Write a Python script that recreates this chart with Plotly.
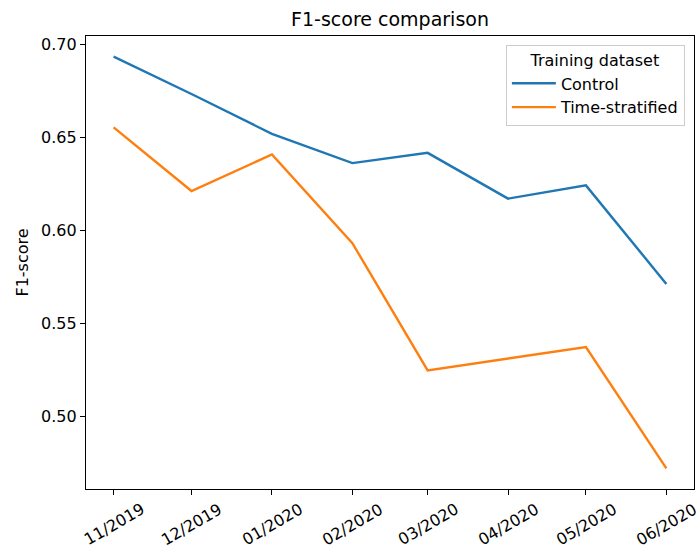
import pandas as pd
import plotly.graph_objects as go

months = ["2019-11-01", "2019-12-01", "2020-01-01", "2020-02-01",
          "2020-03-01", "2020-04-01", "2020-05-01", "2020-06-01"]
month_labels = ["11/2019", "12/2019", "01/2020", "02/2020",
                "03/2020", "04/2020", "05/2020", "06/2020"]
control = [0.6934, 0.6733, 0.6519, 0.6362, 0.6417, 0.6171, 0.6242, 0.5713]
time_stratified = [0.6554, 0.6212, 0.6408, 0.5932, 0.5248, 0.5313, 0.5374, 0.4722]

font = "DejaVu Sans"

fig = go.Figure()
fig.add_trace(go.Scatter(x=months, y=control, mode="lines", name="Control",
                         line=dict(color="#1f77b4", width=2.4)))
fig.add_trace(go.Scatter(x=months, y=time_stratified, mode="lines", name="Time-stratified",
                         line=dict(color="#ff7f0e", width=2.4)))

# matplotlib-like 5% margins
d = pd.to_datetime(months)
pad = (d.max() - d.min()) * 0.05
xr = [str(d.min() - pad), str(d.max() + pad)]
lo = min(control + time_stratified)
hi = max(control + time_stratified)
yr = [lo - (hi - lo) * 0.05, hi + (hi - lo) * 0.05]

# centred, rotated tick labels
for m, lab in zip(months, month_labels):
    fig.add_annotation(x=m, y=0, xref="x", yref="paper", text=lab, showarrow=False,
                       textangle=-30, xanchor="center", yanchor="middle", yshift=-35,
                       font=dict(family=font, size=16, color="black"))

fig.update_layout(
    width=697,
    height=550,
    margin=dict(l=86, r=3, t=36, b=61, autoexpand=False),
    paper_bgcolor="white",
    plot_bgcolor="white",
    font=dict(family=font, size=16, color="black"),
    title=dict(text="F1-score comparison", x=0.5, xref="paper", y=1, yref="paper",
               yanchor="bottom", pad=dict(b=10), font=dict(size=19)),
    showlegend=True,
    legend=dict(
        title=dict(text="Training dataset", side="top center", font=dict(size=16)),
        x=0.985, y=0.981, xanchor="right", yanchor="top", itemwidth=44,
        bordercolor="#cccccc", borderwidth=1, bgcolor="rgba(255,255,255,0.8)",
        font=dict(size=16),
    ),
)
fig.update_xaxes(type="date", range=xr, tickvals=months, showticklabels=False,
                 ticks="outside", ticklen=5, tickcolor="black", automargin=False,
                 showline=True, linecolor="black", linewidth=1.3, mirror=True,
                 showgrid=False, zeroline=False)
fig.update_yaxes(range=yr, tickvals=[0.50, 0.55, 0.60, 0.65, 0.70], tickformat=".2f",
                 ticks="outside", ticklen=5, tickcolor="black", automargin=False,
                 showline=True, linecolor="black", linewidth=1.3, mirror=True,
                 showgrid=False, zeroline=False,
                 title=dict(text="F1-score", standoff=8, font=dict(size=16)))

fig.write_html("out.html", config={"displayModeBar": False},
               post_script="document.body.style.margin='0';")
